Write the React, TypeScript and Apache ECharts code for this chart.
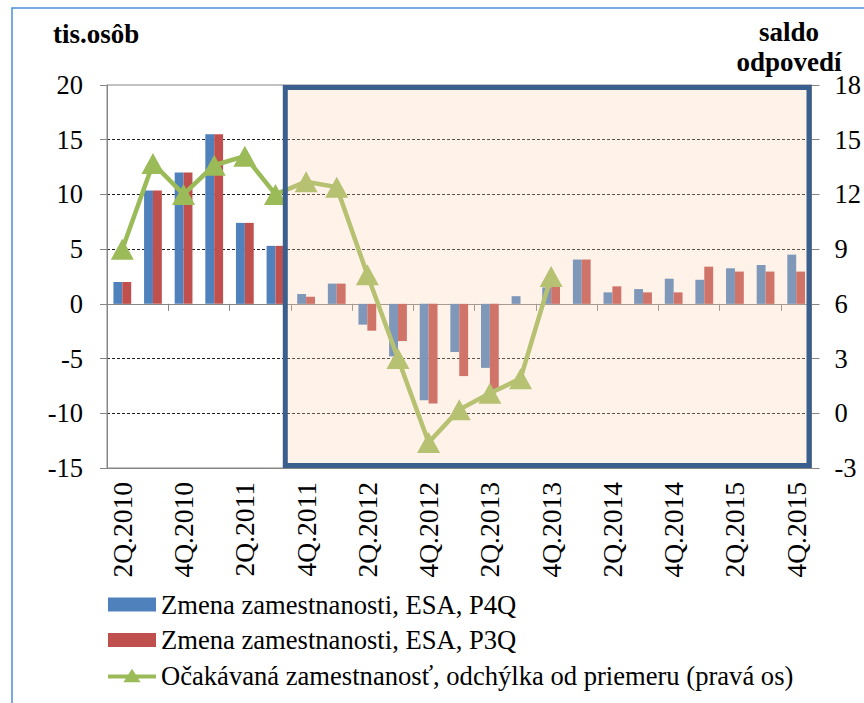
import React, { useEffect, useRef } from "react";
import * as echarts from "echarts";

const categories = [
  "2Q.2010", "3Q.2010", "4Q.2010", "1Q.2011", "2Q.2011", "3Q.2011", "4Q.2011",
  "1Q.2012", "2Q.2012", "3Q.2012", "4Q.2012", "1Q.2013", "2Q.2013", "3Q.2013",
  "4Q.2013", "1Q.2014", "2Q.2014", "3Q.2014", "4Q.2014", "1Q.2015", "2Q.2015",
  "3Q.2015", "4Q.2015",
];

const p4q = [
  2.0, 10.35, 12.0, 15.5, 7.4, 5.3, 0.9, 1.85, -1.9, -4.8, -8.8, -4.4, -5.85,
  0.7, 1.5, 4.05, 1.05, 1.35, 2.3, 2.2, 3.25, 3.55, 4.5,
];

const p3q = [
  2.0, 10.35, 12.0, 15.5, 7.4, 5.3, 0.65, 1.85, -2.45, -3.4, -9.1, -6.6, -7.8,
  0, 1.9, 4.05, 1.6, 1.05, 1.05, 3.4, 2.95, 2.95, 2.95,
];

const expected: (number | null)[] = [
  9.0, 13.7, 12.0, 13.6, 14.1, 12.0, 12.7, 12.4, 7.6, 3.0, -1.6, 0.2, 1.1, 1.9,
  7.5, null, null, null, null, null, null, null, null,
];

const seriesNames = [
  "Zmena zamestnanosti, ESA, P4Q",
  "Zmena zamestnanosti, ESA, P3Q",
  "Očakávaná zamestnanosť, odchýlka od priemeru (pravá os)",
];

const leftTitle = "tis.osôb";
const rightTitle = "saldo\nodpovedí";
const highlightFrom = "4Q.2011";

const FONT = "Liberation Serif";
const GRAY = "#868686";
const LINE_ICON =
  "path://M0,6 L21.1,6 L25,0 L28.9,6 L50,6 L50,10 L31.4,10 L34,14 L16,14 L18.6,10 L0,10 Z";

export default function App() {
  const ref = useRef<HTMLDivElement>(null);

  useEffect(() => {
    if (!ref.current) return;
    const chart = echarts.init(ref.current, null, { renderer: "svg" });
    const option: any = {
      animation: false,
      backgroundColor: "#ffffff",
      textStyle: { fontFamily: FONT, color: "#000" },
      grid: {
        left: 107,
        right: 46,
        top: 85,
        bottom: 235,
        show: true,
        borderColor: GRAY,
        borderWidth: 1,
        containLabel: false,
      },
      legend: {
        orient: "vertical",
        left: 103,
        top: 586,
        itemWidth: 48,
        itemHeight: 14,
        itemGap: 8.5,
        textStyle: { fontFamily: FONT, fontSize: 26.6, color: "#000", lineHeight: 26 },
        data: [
          { name: seriesNames[0], icon: "rect" },
          { name: seriesNames[1], icon: "rect" },
          { name: seriesNames[2], icon: LINE_ICON, itemStyle: { color: "#9bbb59" } },
        ],
      },
      xAxis: [
        {
          type: "category",
          data: categories,
          position: "bottom",
          axisLine: { show: true, onZero: false, lineStyle: { color: GRAY, width: 1 } },
          axisTick: { show: false },
          axisLabel: {
            rotate: 90,
            interval: 1,
            margin: 14,
            fontFamily: FONT,
            fontSize: 27.5,
            color: "#000",
          },
          splitLine: { show: false },
        },
        {
          type: "category",
          data: categories,
          position: "top",
          axisLine: {
            show: true,
            onZero: true,
            onZeroAxisIndex: 0,
            lineStyle: { color: GRAY, width: 1 },
          },
          axisTick: { show: true, inside: true, length: 7, lineStyle: { color: GRAY } },
          axisLabel: { show: false },
          splitLine: { show: false },
        },
      ],
      yAxis: [
        {
          type: "value",
          min: -15,
          max: 20,
          interval: 5,
          position: "left",
          axisLine: { show: true, lineStyle: { color: GRAY } },
          axisTick: { show: true, length: 7, lineStyle: { color: GRAY } },
          axisLabel: { margin: 24, fontFamily: FONT, fontSize: 26.5, color: "#000" },
          splitLine: {
            show: true,
            showMinLine: false,
            showMaxLine: false,
            lineStyle: { color: "#222", width: 1, type: [3, 2] },
          },
        },
        {
          type: "value",
          min: -3,
          max: 18,
          interval: 3,
          position: "right",
          axisLine: { show: true, lineStyle: { color: GRAY } },
          axisTick: { show: true, length: 8, lineStyle: { color: GRAY } },
          axisLabel: { margin: 23, fontFamily: FONT, fontSize: 26.5, color: "#000" },
          splitLine: { show: false },
        },
      ],
      series: [
        {
          name: seriesNames[0],
          type: "bar",
          data: p4q,
          xAxisIndex: 0,
          yAxisIndex: 0,
          barGap: "0%",
          barCategoryGap: "42%",
          itemStyle: { color: "#4f81bd" },
          z: 2,
        },
        {
          name: seriesNames[1],
          type: "bar",
          data: p3q,
          xAxisIndex: 0,
          yAxisIndex: 0,
          barGap: "0%",
          barCategoryGap: "42%",
          itemStyle: { color: "#c0504d" },
          z: 2,
        },
        {
          name: seriesNames[2],
          type: "line",
          data: expected,
          xAxisIndex: 0,
          yAxisIndex: 1,
          symbol: "triangle",
          symbolSize: [23, 21],
          showSymbol: true,
          showAllSymbol: true,
          lineStyle: { color: "#9bbb59", width: 4.5 },
          itemStyle: { color: "#9bbb59" },
          connectNulls: false,
          z: 3,
        },
      ],
    };
    chart.setOption(option);

    const idx = categories.indexOf(highlightFrom);
    const xA = chart.convertToPixel({ xAxisIndex: 0 }, categories[idx]) as number;
    const xB = chart.convertToPixel({ xAxisIndex: 0 }, categories[idx + 1]) as number;
    const band = xB - xA;
    const xLast = chart.convertToPixel({ xAxisIndex: 0 }, categories[categories.length - 1]) as number;
    const yTop = chart.convertToPixel({ yAxisIndex: 0 }, 20) as number;
    const yBot = chart.convertToPixel({ yAxisIndex: 0 }, -15) as number;
    const lw = 5;
    const rx = xA - band / 2 - 5.5;
    const rRight = xLast + band / 2 - lw / 2;
    const rTop = yTop + lw / 2;
    const rBot = yBot - lw / 2;

    chart.setOption({
      graphic: [
        {
          type: "rect",
          silent: true,
          z: 0,
          shape: { x: 12, y: 8, width: 1000, height: 1000 },
          style: { fill: "none", stroke: "#4a8fd8", lineWidth: 1.5 },
        },
        {
          type: "text",
          left: 53,
          top: 20,
          z: 10,
          style: {
            text: leftTitle,
            fontFamily: FONT,
            fontSize: 27,
            fontWeight: "bold",
            fill: "#000",
          },
        },
        {
          type: "text",
          x: 789,
          y: 17,
          z: 10,
          style: {
            text: rightTitle,
            fontFamily: FONT,
            fontSize: 27,
            fontWeight: "bold",
            fill: "#000",
            align: "center",
            lineHeight: 30,
          },
        },
        {
          type: "rect",
          silent: true,
          z: 100,
          shape: { x: rx, y: rTop, width: rRight - rx, height: rBot - rTop },
          style: {
            fill: "rgba(251,208,176,0.28)",
            stroke: "#3a5f8e",
            lineWidth: lw,
          },
        },
      ],
    });

    return () => chart.dispose();
  }, []);

  return (
    <div
      ref={ref}
      style={{ position: "fixed", left: 0, top: 0, width: 864, height: 703 }}
    />
  );
}
